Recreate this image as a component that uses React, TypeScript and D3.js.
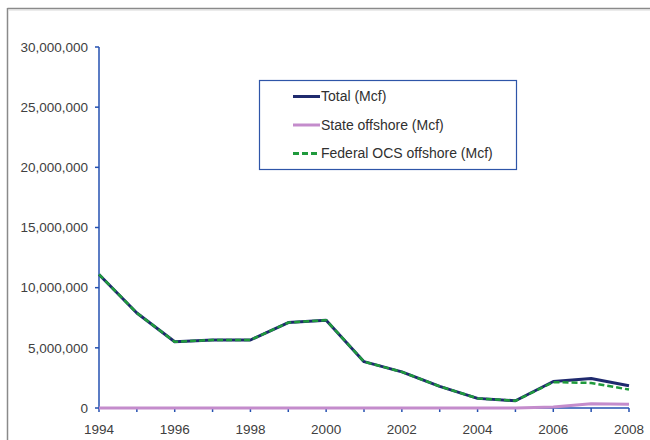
import React from "react";
import * as d3 from "d3";

const years = [1994, 1995, 1996, 1997, 1998, 1999, 2000, 2001, 2002, 2003, 2004, 2005, 2006, 2007, 2008];
const totalMcf = [11100000, 7900000, 5500000, 5650000, 5650000, 7100000, 7300000, 3850000, 3000000, 1800000, 800000, 600000, 2200000, 2450000, 1850000];
const stateMcf = [0, 0, 0, 0, 0, 0, 0, 0, 0, 0, 0, 0, 80000, 350000, 320000];
const federalMcf = [11100000, 7900000, 5500000, 5650000, 5650000, 7100000, 7300000, 3850000, 3000000, 1800000, 800000, 600000, 2150000, 2080000, 1530000];
const yTicks = [0, 5000000, 10000000, 15000000, 20000000, 25000000, 30000000];
const xTickLabels = [1994, 1996, 1998, 2000, 2002, 2004, 2006, 2008];
const seriesNames = ["Total (Mcf)", "State offshore (Mcf)", "Federal OCS offshore (Mcf)"];

export default function App() {
  const W = 650, H = 440;
  const x = d3.scaleLinear().domain([1994, 2008]).range([99, 629]);
  const y = d3.scaleLinear().domain([0, 30000000]).range([408, 47]);
  const fmt = d3.format(",");
  const line = (vals: number[]) =>
    d3.line<number>().x((_, i) => x(years[i])).y((v) => y(v))(vals) || "";
  const font = "'Liberation Sans', Arial, sans-serif";
  const legendItems = [
    { name: seriesNames[0], color: "#1f2a6e", dash: "" },
    { name: seriesNames[1], color: "#c48ccc", dash: "" },
    { name: seriesNames[2], color: "#1f9a3c", dash: "6,3" },
  ];
  return (
    <svg width={W} height={H} style={{ position: "absolute", left: 0, top: 0, background: "#fff" }}>
      <rect x={0} y={0} width={W} height={H} fill="#fff" />
      {/* outer frame */}
      <line x1={7.5} y1={8.5} x2={650} y2={8.5} stroke="#8a8a8a" strokeWidth={1.5} />
      <line x1={7.5} y1={8} x2={7.5} y2={440} stroke="#8a8a8a" strokeWidth={1.5} />
      <line x1={9} y1={10} x2={650} y2={10} stroke="#d8d8d8" strokeWidth={1} />
      {/* y axis */}
      <line x1={99} y1={y(30000000)} x2={99} y2={y(0)} stroke="#2450b0" strokeWidth={1.5} />
      {yTicks.map((t) => (
        <g key={t}>
          <line x1={95} x2={99} y1={y(t)} y2={y(t)} stroke="#2450b0" strokeWidth={1.5} />
          <text x={88} y={y(t)} dy="0.35em" textAnchor="end" fontSize={13.5} fill="#404040" fontFamily={font}>
            {fmt(t)}
          </text>
        </g>
      ))}
      {/* x axis */}
      <line x1={99} x2={629} y1={y(0)} y2={y(0)} stroke="#2450b0" strokeWidth={1.5} />
      {years.map((yr) => (
        <line key={yr} x1={x(yr)} x2={x(yr)} y1={y(0)} y2={y(0) + 4} stroke="#2450b0" strokeWidth={1.5} />
      ))}
      {xTickLabels.map((yr) => (
        <text key={yr} x={x(yr)} y={434} textAnchor="middle" fontSize={13.5} fill="#404040" fontFamily={font}>
          {yr}
        </text>
      ))}
      {/* series */}
      <path d={line(totalMcf)} fill="none" stroke="#1f2a6e" strokeWidth={3} strokeLinejoin="round" />
      <path d={line(stateMcf)} fill="none" stroke="#c48ccc" strokeWidth={3} strokeLinejoin="round" />
      <path d={line(federalMcf)} fill="none" stroke="#1f9a3c" strokeWidth={2.5} strokeDasharray="6,3" strokeLinejoin="round" />
      {/* legend */}
      <rect x={259.5} y={80.5} width={257} height={89} fill="#fff" stroke="#2e55a8" strokeWidth={1.2} />
      {legendItems.map((it, i) => (
        <g key={it.name}>
          <line x1={293} x2={320} y1={96.5 + i * 28.5} y2={96.5 + i * 28.5} stroke={it.color} strokeWidth={3} strokeDasharray={it.dash || undefined} />
          <text x={321} y={96.5 + i * 28.5} dy="0.35em" fontSize={14} fill="#303030" fontFamily={font}>
            {it.name}
          </text>
        </g>
      ))}
    </svg>
  );
}
